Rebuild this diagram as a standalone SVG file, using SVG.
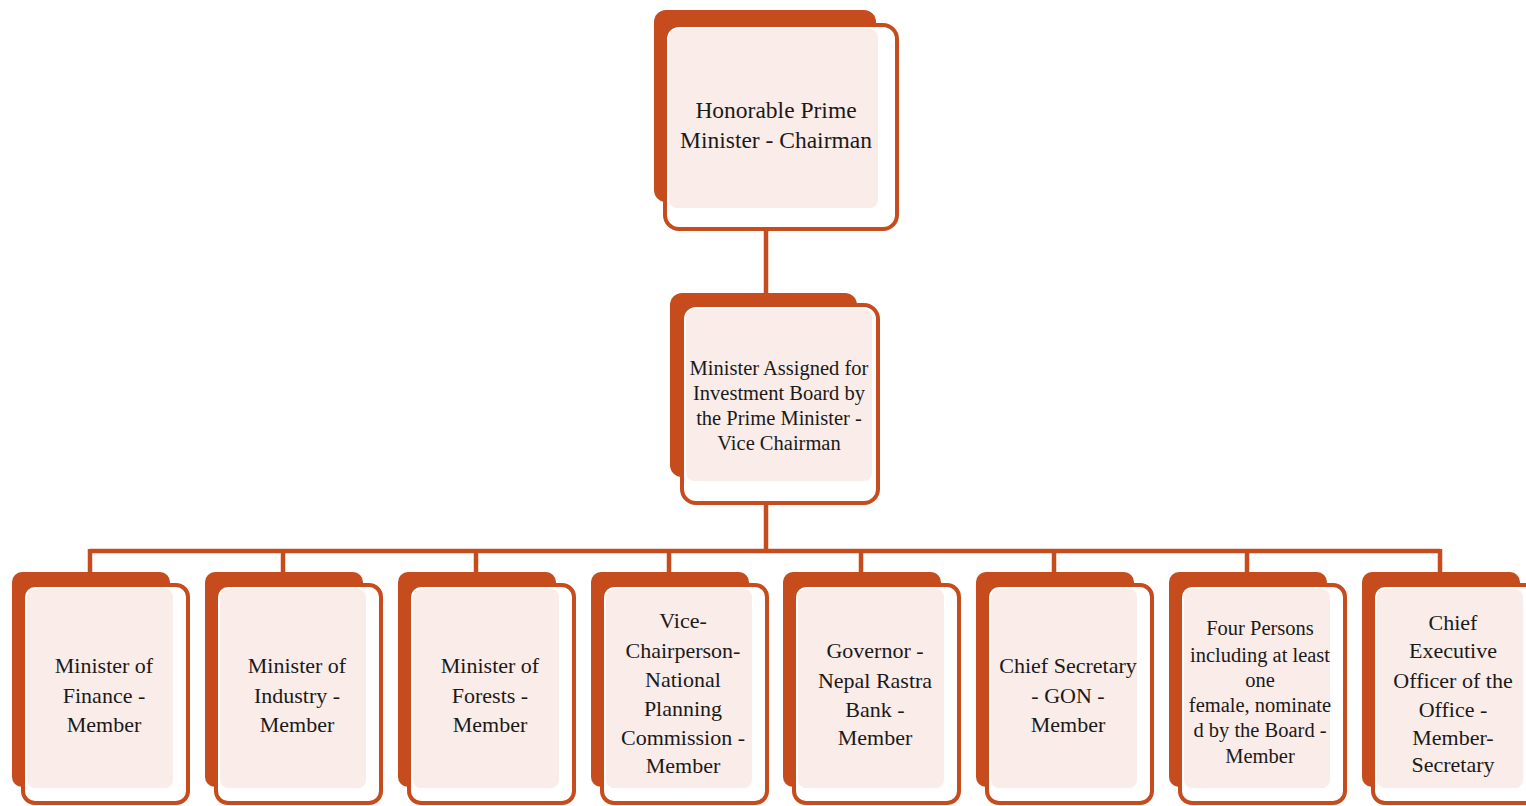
<svg xmlns="http://www.w3.org/2000/svg" width="1526" height="806" viewBox="0 0 1526 806" font-family="'Liberation Serif', 'Times New Roman', 'DejaVu Serif', serif">
<style>
.back{fill:#C64C1E;}
.front{fill:#FFFFFF;stroke:#C64C1E;stroke-width:4;}
.pink{fill:#FAECE8;}
.conn{fill:none;stroke:#C64C1E;stroke-width:4.5;}
text{fill:#1A1A1A;text-anchor:middle;}
.t1{font-size:23.5px;}
.t2{font-size:20.5px;}
.t3{font-size:22px;}
.t4{font-size:20.5px;}
</style>
<rect width="1526" height="806" fill="#FFFFFF"/>
<g id="connectors">
<path class="conn" d="M766 229V293M766 503V551M90 551H1440M90 549V572M283 549V572M476 549V572M669 549V572M861 549V572M1054 549V572M1247 549V572M1440 549V572"/>
</g>
<g id="node-chairman">
<rect class="back" x="654" y="10" width="222" height="192" rx="12"/>
<rect class="front" x="665" y="25" width="232" height="204" rx="14"/>
<rect class="pink" x="669" y="29" width="209" height="179" rx="8"/>
<text class="t1" x="776" y="118">Honorable Prime</text>
<text class="t1" x="776" y="148">Minister - Chairman</text>
</g>
<g id="node-vice-chairman">
<rect class="back" x="670" y="293" width="187" height="184" rx="12"/>
<rect class="front" x="682" y="305" width="196" height="198" rx="14"/>
<rect class="pink" x="686" y="309" width="186" height="172" rx="8"/>
<text class="t2" x="779" y="375">Minister Assigned for</text>
<text class="t2" x="779" y="400">Investment Board by</text>
<text class="t2" x="779" y="425">the Prime Minister -</text>
<text class="t2" x="779" y="450">Vice Chairman</text>
</g>
<g id="node-finance">
<rect class="back" x="12" y="572" width="158" height="215" rx="10"/>
<rect class="front" x="23" y="585" width="165" height="218" rx="12"/>
<rect class="pink" x="27" y="589" width="146" height="199" rx="8"/>
<text class="t3" x="104" y="673">Minister of</text>
<text class="t3" x="104" y="703">Finance -</text>
<text class="t3" x="104" y="732">Member</text>
</g>
<g id="node-industry">
<rect class="back" x="205" y="572" width="158" height="215" rx="10"/>
<rect class="front" x="216" y="585" width="165" height="218" rx="12"/>
<rect class="pink" x="220" y="589" width="146" height="199" rx="8"/>
<text class="t3" x="297" y="673">Minister of</text>
<text class="t3" x="297" y="703">Industry -</text>
<text class="t3" x="297" y="732">Member</text>
</g>
<g id="node-forests">
<rect class="back" x="398" y="572" width="158" height="215" rx="10"/>
<rect class="front" x="409" y="585" width="165" height="218" rx="12"/>
<rect class="pink" x="413" y="589" width="146" height="199" rx="8"/>
<text class="t3" x="490" y="673">Minister of</text>
<text class="t3" x="490" y="703">Forests -</text>
<text class="t3" x="490" y="732">Member</text>
</g>
<g id="node-planning">
<rect class="back" x="591" y="572" width="158" height="215" rx="10"/>
<rect class="front" x="602" y="585" width="165" height="218" rx="12"/>
<rect class="pink" x="606" y="589" width="146" height="199" rx="8"/>
<text class="t3" x="683" y="628">Vice-</text>
<text class="t3" x="683" y="658">Chairperson-</text>
<text class="t3" x="683" y="687">National</text>
<text class="t3" x="683" y="716">Planning</text>
<text class="t3" x="683" y="745">Commission -</text>
<text class="t3" x="683" y="773">Member</text>
</g>
<g id="node-governor">
<rect class="back" x="783" y="572" width="158" height="215" rx="10"/>
<rect class="front" x="794" y="585" width="165" height="218" rx="12"/>
<rect class="pink" x="798" y="589" width="146" height="199" rx="8"/>
<text class="t3" x="875" y="658">Governor -</text>
<text class="t3" x="875" y="688">Nepal Rastra</text>
<text class="t3" x="875" y="717">Bank -</text>
<text class="t3" x="875" y="745">Member</text>
</g>
<g id="node-chief-secretary">
<rect class="back" x="976" y="572" width="158" height="215" rx="10"/>
<rect class="front" x="987" y="585" width="165" height="218" rx="12"/>
<rect class="pink" x="991" y="589" width="146" height="199" rx="8"/>
<text class="t3" x="1068" y="673">Chief Secretary</text>
<text class="t3" x="1068" y="703">- GON -</text>
<text class="t3" x="1068" y="732">Member</text>
</g>
<g id="node-four-persons">
<rect class="back" x="1169" y="572" width="158" height="215" rx="10"/>
<rect class="front" x="1180" y="585" width="165" height="218" rx="12"/>
<rect class="pink" x="1184" y="589" width="146" height="199" rx="8"/>
<text class="t4" x="1260" y="635">Four Persons</text>
<text class="t4" x="1260" y="662">including at least</text>
<text class="t4" x="1260" y="687">one</text>
<text class="t4" x="1260" y="712">female, nominate</text>
<text class="t4" x="1260" y="737">d by the Board -</text>
<text class="t4" x="1260" y="763">Member</text>
</g>
<g id="node-ceo">
<rect class="back" x="1362" y="572" width="158" height="215" rx="10"/>
<rect class="front" x="1373" y="585" width="165" height="218" rx="12"/>
<rect class="pink" x="1377" y="589" width="146" height="199" rx="8"/>
<text class="t3" x="1453" y="630">Chief</text>
<text class="t3" x="1453" y="658">Executive</text>
<text class="t3" x="1453" y="688">Officer of the</text>
<text class="t3" x="1453" y="717">Office -</text>
<text class="t3" x="1453" y="745">Member-</text>
<text class="t3" x="1453" y="772">Secretary</text>
</g>
</svg>
